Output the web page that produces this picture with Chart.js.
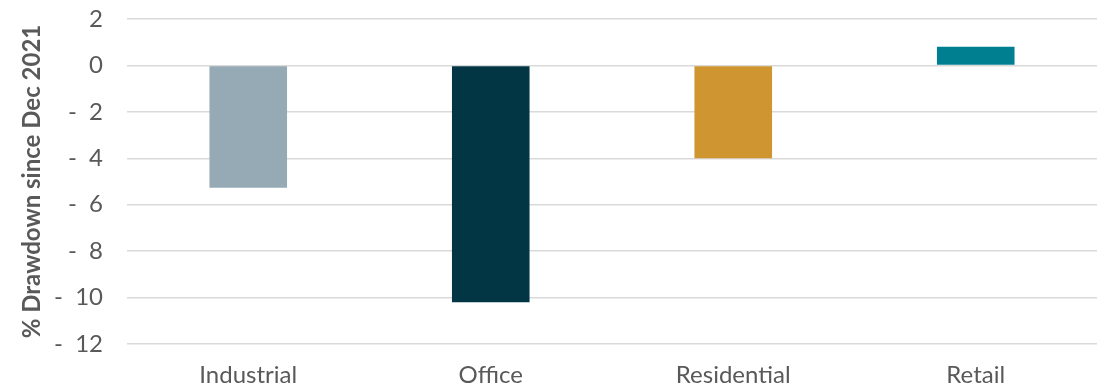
<!DOCTYPE html>
<html>
<head>
<meta charset="utf-8">
<script src="https://cdn.jsdelivr.net/npm/chart.js@4"></script>
<style>
  html, body { margin: 0; padding: 0; background: #fff; }
  #wrap { width: 1097px; height: 387px; }
</style>
</head>
<body>
<div id="wrap"><canvas id="drawdownChart"></canvas></div>
<script>
const sectors = ['Industrial', 'Office', 'Residential', 'Retail'];
const drawdown = [-5.27, -10.2, -4.0, 0.81];
const barColors = ['#95aab5', '#023645', '#cf9531', '#007f91'];
const yTicks = [2, 0, -2, -4, -6, -8, -10, -12];

const textColor = '#595959';

// format like "-  2" for negatives
function fmtTick(v) {
    if (v < 0) return '-  ' + Math.abs(v);
    return String(v);
}

const ctx = document.getElementById('drawdownChart').getContext('2d');
new Chart(ctx, {
    type: 'bar',
    data: {
        labels: sectors,
        datasets: [{
            data: drawdown,
            backgroundColor: barColors,
            borderWidth: 0,
            categoryPercentage: 1,
            barPercentage: 0.32
        }]
    },
    options: {
        responsive: true,
        maintainAspectRatio: false,
        animation: false,
        layout: { padding: { top: 19, right: 0, left: 0, bottom: 0 } },
        plugins: {
            legend: { display: false },
            tooltip: { enabled: false }
        },
        scales: {
            x: {
                grid: { display: false, drawTicks: false },
                border: { display: false },
                ticks: {
                    color: textColor,
                    font: { family: 'Lato', size: 24 },
                    padding: 17
                },
                afterFit: (scale) => {
                    scale.height = 43;
                    scale.paddingLeft = 0;
                    scale.paddingRight = 0;
                }
            },
            y: {
                min: -12,
                max: 2,
                afterBuildTicks: (scale) => {
                    scale.ticks = yTicks.map(v => ({ value: v }));
                },
                grid: { color: '#d9d9d9', lineWidth: 1.5, drawTicks: false },
                border: { display: false },
                ticks: {
                    color: textColor,
                    font: { family: 'Lato', size: 24 },
                    padding: 24,
                    callback: (v) => fmtTick(v)
                },
                title: {
                    display: true,
                    text: '% Drawdown since Dec 2021',
                    color: textColor,
                    font: { family: 'Lato', size: 24, weight: 'bold' },
                    padding: { top: 18, bottom: 0 }
                },
                afterFit: (scale) => {
                    scale.width = 127;
                    scale.paddingTop = 0;
                    scale.paddingBottom = 0;
                }
            }
        }
    }
});
</script>
</body>
</html>
